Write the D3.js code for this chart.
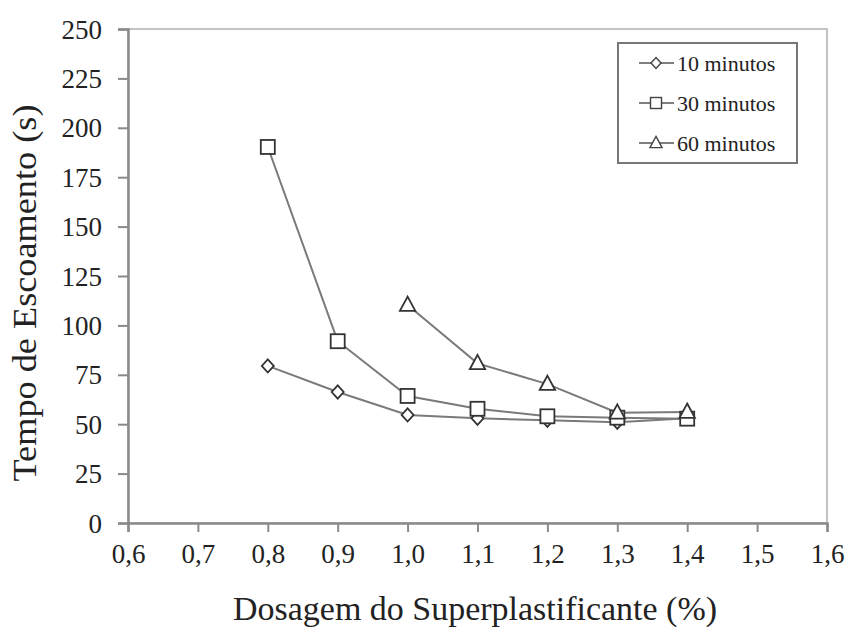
<!DOCTYPE html>
<html>
<head>
<meta charset="utf-8">
<script src="https://cdn.jsdelivr.net/npm/d3@7"></script>
<style>
  body { margin: 0; background: #fff; }
  svg text { font-family: "Liberation Serif", "Times New Roman", Times, "DejaVu Serif", serif; fill: #222; }
</style>
</head>
<body>
<svg id="chart" width="849" height="630"></svg>
<script>
// dosage (%) for each series
const dose10 = [0.8, 0.9, 1.0, 1.1, 1.2, 1.3, 1.4];
const time10 = [79.5, 66.3, 54.7, 53, 52, 51, 53];
const dose30 = [0.8, 0.9, 1.0, 1.1, 1.2, 1.3, 1.4];
const time30 = [190.3, 92, 64.3, 57.8, 54, 53.3, 52.8];
const dose60 = [1.0, 1.1, 1.2, 1.3, 1.4];
const time60 = [110.3, 80.8, 70.3, 55.8, 56.2];

const seriesNames = ["10 minutos", "30 minutos", "60 minutos"];
const markerTypes = ["diamond", "square", "triangle"];
const xTicks = [0.6, 0.7, 0.8, 0.9, 1.0, 1.1, 1.2, 1.3, 1.4, 1.5, 1.6];
const yTicks = [0, 25, 50, 75, 100, 125, 150, 175, 200, 225, 250];

const svg = d3.select("#chart");
const margin = {top: 29, right: 22, bottom: 107, left: 128};
const width = 849 - margin.left - margin.right;
const height = 630 - margin.top - margin.bottom;

const x = d3.scaleLinear().domain([0.6, 1.6]).range([margin.left, margin.left + width]);
const y = d3.scaleLinear().domain([0, 250]).range([margin.top + height, margin.top]);

const axisColor = "#8a8a8a";

// frame
svg.append("rect")
    .attr("x", margin.left).attr("y", margin.top)
    .attr("width", width).attr("height", height)
    .attr("fill", "none").attr("stroke", "#b0b0b0").attr("stroke-width", 1.5);

const fmt = d => d3.format(".1f")(d).replace(".", ",");

const xAxis = svg.append("g")
    .attr("transform", `translate(0,${margin.top + height})`)
    .call(d3.axisBottom(x).tickValues(xTicks).tickFormat(fmt).tickSize(9).tickPadding(10));

const yAxis = svg.append("g")
    .attr("transform", `translate(${margin.left},0)`)
    .call(d3.axisLeft(y).tickValues(yTicks).tickSize(10).tickPadding(16));

[xAxis, yAxis].forEach(g => {
    g.attr("font-family", null);
    g.select(".domain").attr("stroke", axisColor).attr("stroke-width", 2.5);
    g.selectAll(".tick line").attr("stroke", axisColor).attr("stroke-width", 2);
    g.selectAll(".tick text")
        .attr("font-size", 27).attr("fill", "#222");
});
xAxis.selectAll(".tick text").attr("dy", "0.78em");
yAxis.selectAll(".tick text").attr("dy", "0.34em");

// axis titles
svg.append("text")
    .attr("x", 475)
    .attr("y", 620)
    .attr("text-anchor", "middle")
    .attr("font-size", 33)
    .attr("textLength", 484)
    .attr("lengthAdjust", "spacingAndGlyphs")
    .text("Dosagem do Superplastificante (%)");

svg.append("text")
    .attr("transform", `translate(36,293) rotate(-90)`)
    .attr("text-anchor", "middle")
    .attr("font-size", 34)
    .attr("textLength", 377)
    .attr("lengthAdjust", "spacingAndGlyphs")
    .text("Tempo de Escoamento (s)");

// markers
function drawMarker(g, type, cx, cy, s) {
    if (type === "diamond") {
        g.append("path")
            .attr("d", `M${cx},${cy - s * 0.55}L${cx + s * 0.5},${cy}L${cx},${cy + s * 0.55}L${cx - s * 0.5},${cy}Z`);
    } else if (type === "square") {
        g.append("rect")
            .attr("x", cx - s / 2).attr("y", cy - s / 2)
            .attr("width", s).attr("height", s);
    } else {
        g.append("path")
            .attr("d", `M${cx},${cy - s * 0.6}L${cx + s * 0.55},${cy + s * 0.42}L${cx - s * 0.55},${cy + s * 0.42}Z`);
    }
}

const series = [
    {dose: dose10, time: time10},
    {dose: dose30, time: time30},
    {dose: dose60, time: time60}
];

const line = d3.line().x(d => x(d[0])).y(d => y(d[1]));

series.forEach(s => {
    const pts = s.dose.map((d, i) => [d, s.time[i]]);
    svg.append("path")
        .datum(pts)
        .attr("d", line)
        .attr("fill", "none")
        .attr("stroke", "#7a7a7a")
        .attr("stroke-width", 2);
});

series.forEach((s, k) => {
    const g = svg.append("g")
        .attr("fill", "#fff").attr("stroke", "#333").attr("stroke-width", 1.8);
    s.dose.forEach((d, i) => {
        drawMarker(g, markerTypes[k], x(d), y(s.time[i]), k === 0 ? 12 : 14);
    });
});

// legend
const legend = svg.append("g");
legend.append("rect")
    .attr("x", 618).attr("y", 43)
    .attr("width", 179).attr("height", 120)
    .attr("fill", "#fff").attr("stroke", "#777").attr("stroke-width", 2);

seriesNames.forEach((name, k) => {
    const ly = 63 + k * 40;
    legend.append("line")
        .attr("x1", 639).attr("x2", 674)
        .attr("y1", ly).attr("y2", ly)
        .attr("stroke", "#555").attr("stroke-width", 1.5);
    const g = legend.append("g")
        .attr("fill", "#fff").attr("stroke", "#444").attr("stroke-width", 1.4);
    drawMarker(g, markerTypes[k], 656, ly, k === 0 ? 10 : 11);
    legend.append("text")
        .attr("x", 677).attr("y", ly)
        .attr("dy", "0.35em")
        .attr("font-size", 22)
        .text(name);
});
</script>
</body>
</html>
